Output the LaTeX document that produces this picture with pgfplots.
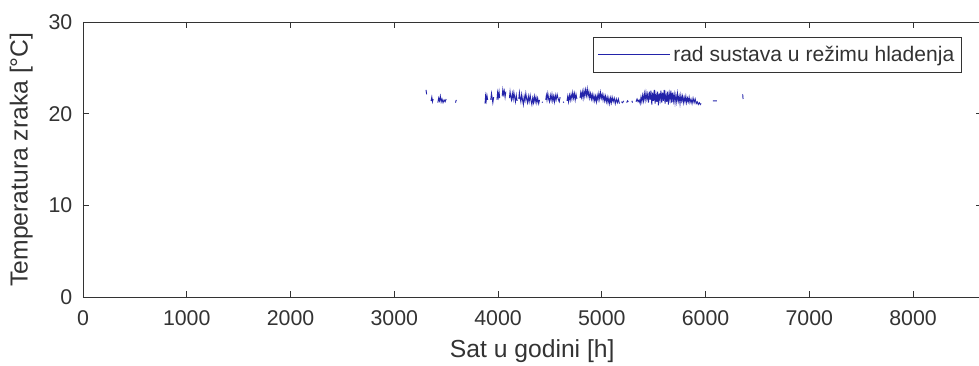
\documentclass[border=0pt]{standalone}
\usepackage{pgfplots}
\pgfplotsset{compat=1.18}
\usepackage{pgfplotstable}
\usepackage{fontspec}
\setmainfont{Liberation Sans}
\definecolor{txt}{rgb}{0.2,0.2,0.2}
\definecolor{dat}{RGB}{35,35,170}
\pgfplotstableread{
h T
3306 22.6
3312 22.1
nan nan
3355 21.4
3362 21.8
3368 21.3
3375 21.6
nan nan
3420 21.2
3428 21.7
3436 21.4
3444 21.9
3452 21.3
3460 21.6
3470 21.2
3480 21.5
3490 21.3
3500 21.6
nan nan
3590 21.2
3598 21.5
nan nan
3875 21.1
3880 21.9
3886 21.4
3893 22.0
3900 21.5
nan nan
3930 21.5
3937 22.2
3944 21.7
3950 21.2
3958 21.8
nan nan
3990 21.5
3996 22.3
4003 21.8
4010 22.4
4016 21.7
nan nan
4040 21.9
4046 22.6
4052 22.1
4060 22.5
4068 21.8
4075 22.4
nan nan
4110 21.7
4116 22.4
4122 21.9
4130 21.5
4138 22.2
4146 21.6
4153 22.3
4160 21.8
4168 21.3
4176 22.0
4184 21.4
nan nan
4200 21.6
4206 22.3
4213 21.7
4220 21.3
4228 22.1
4236 21.5
4244 21.0
4252 21.9
4260 21.4
4268 22.2
4276 21.6
4284 21.2
4292 21.9
4300 21.3
4310 22.0
4318 21.4
4326 21.0
4334 21.7
4342 21.2
4350 21.9
4358 21.3
4366 21.8
4374 21.2
4382 21.7
4392 21.1
4400 21.5
nan nan
4425 21.2
4430 21.3
nan nan
4460 21.5
4466 22.0
4472 21.5
4480 22.2
4488 21.6
4496 21.3
4504 22.0
4512 21.5
4520 22.1
4528 21.4
4536 21.9
4544 21.3
4552 22.0
4560 21.5
4570 22.1
4580 21.6
4590 21.3
4598 21.8
nan nan
4628 21.3
4634 21.2
nan nan
4665 21.4
4672 21.9
4680 21.3
4688 22.0
4696 21.5
4704 22.1
4712 21.6
4720 22.3
4728 21.7
4736 22.2
4744 21.5
4752 22.1
4760 21.6
nan nan
4790 21.7
4797 22.3
4804 21.8
4812 22.4
4820 21.7
4828 22.5
4836 21.9
4844 22.6
4852 22.0
4860 22.7
4868 21.9
4876 22.4
4884 21.7
4892 22.2
4900 21.6
4908 22.1
4916 21.5
4924 22.0
4932 21.4
4940 21.9
4948 21.3
4956 22.0
4964 21.5
4972 22.2
4980 21.6
4988 22.3
4996 21.7
5004 22.1
5012 21.5
5020 22.0
5028 21.4
5036 21.9
5044 21.3
5052 21.8
5060 21.2
5068 21.7
5076 21.1
5084 21.7
5092 21.2
5100 21.8
5110 21.3
5120 21.7
5130 21.1
5140 21.6
5150 21.2
5160 21.6
5170 21.1
nan nan
5190 21.3
5200 21.2
5212 21.4
nan nan
5240 21.2
5248 21.4
5256 21.3
nan nan
5290 21.4
5296 21.2
nan nan
5330 21.3
5340 21.6
5350 21.3
5360 21.5
5370 21.1
5378 21.8
5386 21.3
5394 22.0
5402 21.4
5410 22.2
5418 21.5
5426 22.3
5434 21.6
5442 22.1
5450 21.2
5458 22.4
5466 21.5
5474 22.5
5482 21.0
5490 22.3
5498 21.4
5506 22.6
5514 21.1
5522 22.1
5530 21.3
5538 22.4
5546 20.9
5554 22.2
5562 21.5
5570 22.5
5578 21.2
5586 22.3
5594 21.4
5602 22.6
5610 21.1
5618 22.1
5626 21.3
5634 22.4
5642 21.0
5650 22.2
5658 21.5
5666 22.5
5674 21.2
5682 22.3
5690 21.4
5698 22.1
5706 21.2
5714 22.0
5722 21.3
5730 22.2
5738 21.4
5746 21.9
5754 21.1
5762 22.0
5770 21.4
5778 21.9
5786 21.2
5794 21.8
5802 21.3
5810 21.9
5818 21.2
5826 21.7
5834 21.3
5842 21.8
5850 21.2
5860 21.6
5870 21.1
5880 21.7
5890 21.2
5900 21.6
5910 21.1
5920 21.3
5930 21.0
5940 21.2
5950 21.0
5958 21.1
nan nan
6070 21.4
6110 21.4
nan nan
6358 22.1
6362 21.6
}\datatable
\begin{document}
\begin{tikzpicture}
\begin{axis}[
  at={(0,0)}, anchor=south west,
  scale only axis,
  width=673.9pt, height=206.25pt,
  xmin=0, xmax=8660, ymin=0, ymax=30,
  xtick={0,1000,...,8000}, ytick={0,10,20,30},
  tick align=inside, major tick length=4.5pt,
  axis line style={draw=txt, line width=0.6pt},
  every tick/.style={draw=txt, line width=0.6pt},
  /pgf/number format/1000 sep={},
  /pgf/number format/assume math mode=true,
  ticklabel style={font=\fontsize{16}{18}\selectfont, text=txt},
  xticklabel style={yshift=-7pt},
  yticklabel style={xshift=-4.5pt},
  label style={font=\fontsize{18.5}{20}\selectfont, text=txt},
  xlabel={Sat u godini [h]},
  ylabel={Temperatura zraka [°C]},
  xlabel style={yshift=-3pt},
  ylabel style={yshift=5pt},
  unbounded coords=jump,
  legend style={at={(rel axis cs:0.9783,0.9455)}, anchor=north east,
    draw=txt, line width=0.6pt, fill=white,
    font=\fontsize{15.8}{17}\selectfont, text=txt,
    inner xsep=3.5pt, inner ysep=4.5pt},
  legend cell align=left,
  legend image code/.code={\draw[#1] (0pt,0pt) -- (54pt,0pt);},
]
\addplot[dat, line width=0.7pt, no markers] table[x=h, y=T] {\datatable};
\addlegendentry{rad sustava u režimu hladenja}
\end{axis}
\pgfresetboundingbox
\useasboundingbox (-62.25pt,-51.75pt) rectangle (672pt,222.75pt);
\end{tikzpicture}
\end{document}
